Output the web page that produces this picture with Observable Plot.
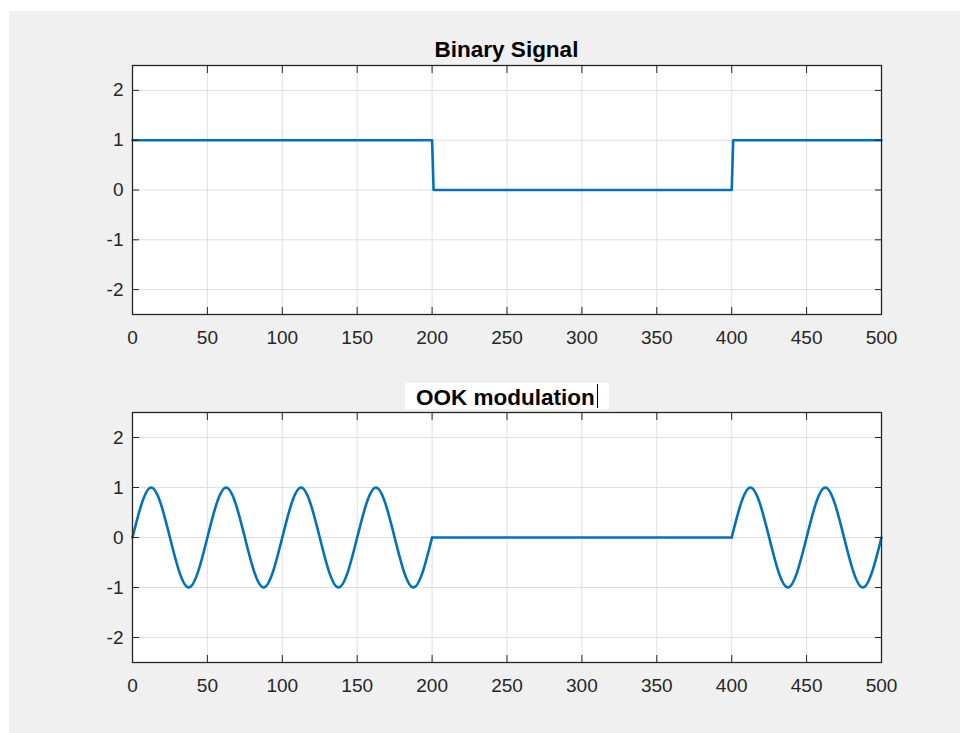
<!DOCTYPE html>
<html>
<head>
<meta charset="utf-8">
<script src="https://cdn.jsdelivr.net/npm/d3@7"></script>
<script src="https://cdn.jsdelivr.net/npm/@observablehq/plot@0.6"></script>
<style>
  html, body { margin: 0; padding: 0; background: #ffffff; }
  #fig { position: relative; width: 960px; height: 733px; background: #ffffff; overflow: hidden;
         font-family: "Liberation Sans", Arial, Helvetica, sans-serif; }
  #grey { position: absolute; left: 9px; top: 11px; width: 951px; height: 722px; background: #f0f0f0; }
  .panel { position: absolute; left: 0; }
  .title { position: absolute; font-weight: bold; font-size: 22.5px; color: #000; white-space: nowrap; line-height: 1; }
</style>
</head>
<body>
<div id="fig">
  <div id="grey"></div>
  <div id="top" class="panel" style="top:0px"></div>
  <div id="bottom" class="panel" style="top:347px"></div>
  <div class="title" id="t1" style="left:0; width:1013px; text-align:center; top:39px;">Binary Signal</div>
  <div style="position:absolute; left:405px; top:383px; width:204px; height:26px; background:#ffffff;"></div>
  <div class="title" id="t2" style="left:416px; top:387px;">OOK modulation</div>
  <div style="position:absolute; left:597px; top:384px; width:1px; height:24px; background:#000;"></div>
</div>
<script>
// ---- data ----
const xTicks = [0, 50, 100, 150, 200, 250, 300, 350, 400, 450, 500];
const yTicks = [-2, -1, 0, 1, 2];

// binary signal (bits 1, 0, 1)
const binX = [0, 200, 201, 400, 401, 500];
const binY = [1, 1, 0, 0, 1, 1];

// OOK modulated carrier: extrema and zero crossings
const ookX = [0, 12.5, 25, 37.5, 50, 62.5, 75, 87.5, 100, 112.5, 125, 137.5, 150, 162.5, 175, 187.5, 200,
              200, 400,
              400, 412.5, 425, 437.5, 450, 462.5, 475, 487.5, 500];
const ookY = [0, 1, 0, -1, 0, 1, 0, -1, 0, 1, 0, -1, 0, 1, 0, -1, 0,
              0, 0,
              0, 1, 0, -1, 0, 1, 0, -1, 0];
const ookPart = ["a", "a", "a", "a", "a", "a", "a", "a", "a", "a", "a", "a", "a", "a", "a", "a", "a",
                 "b", "b",
                 "c", "c", "c", "c", "c", "c", "c", "c", "c"];

const binData = binX.map((x, i) => ({x, y: binY[i], part: "a"}));
const ookData = ookX.map((x, i) => ({x, y: ookY[i], part: ookPart[i]}));

const axisColor = "#262626";
const gridColor = "#dfdfdf";
const lineColor = "#0072BD";
const tk = 7;
const fmt = d => String(d);

function panel(data, curve, height, marginBottom) {
  return Plot.plot({
    width: 960,
    height,
    marginLeft: 132,
    marginRight: 79,
    marginTop: 65,
    marginBottom,
    style: {background: "transparent", fontFamily: "'Liberation Sans', Arial, Helvetica, sans-serif", fontSize: "19px", color: axisColor},
    x: {domain: [0, 500], label: null},
    y: {domain: [-2.5, 2.5], label: null},
    marks: [
      Plot.frame({fill: "white", stroke: null}),
      Plot.gridX(xTicks, {stroke: gridColor, strokeOpacity: 1}),
      Plot.gridY(yTicks, {stroke: gridColor, strokeOpacity: 1}),
      Plot.line(data, {x: "x", y: "y", z: "part", stroke: lineColor, strokeWidth: 2.6, curve}),
      // inward ticks on all four sides
      Plot.axisX(xTicks, {anchor: "bottom", tickSize: tk, dy: -tk, tickFormat: () => "", label: null, stroke: axisColor}),
      Plot.axisX(xTicks, {anchor: "top", tickSize: tk, dy: tk, tickFormat: () => "", label: null, stroke: axisColor}),
      Plot.axisY(yTicks, {anchor: "left", tickSize: tk, dx: tk, tickFormat: () => "", label: null, stroke: axisColor}),
      Plot.axisY(yTicks, {anchor: "right", tickSize: tk, dx: -tk, tickFormat: () => "", label: null, stroke: axisColor}),
      // labels
      Plot.axisX(xTicks, {anchor: "bottom", tickSize: 0, tickPadding: 16, tickFormat: fmt, label: null, fill: axisColor}),
      Plot.axisY(yTicks, {anchor: "left", tickSize: 0, tickPadding: 9, tickFormat: fmt, label: null, fill: axisColor}),
      Plot.frame({stroke: axisColor, strokeWidth: 1.3})
    ]
  });
}

document.getElementById("top").appendChild(panel(binData, "linear", 360, 46));
document.getElementById("bottom").appendChild(panel(ookData, "natural", 360, 45));
</script>
</body>
</html>
